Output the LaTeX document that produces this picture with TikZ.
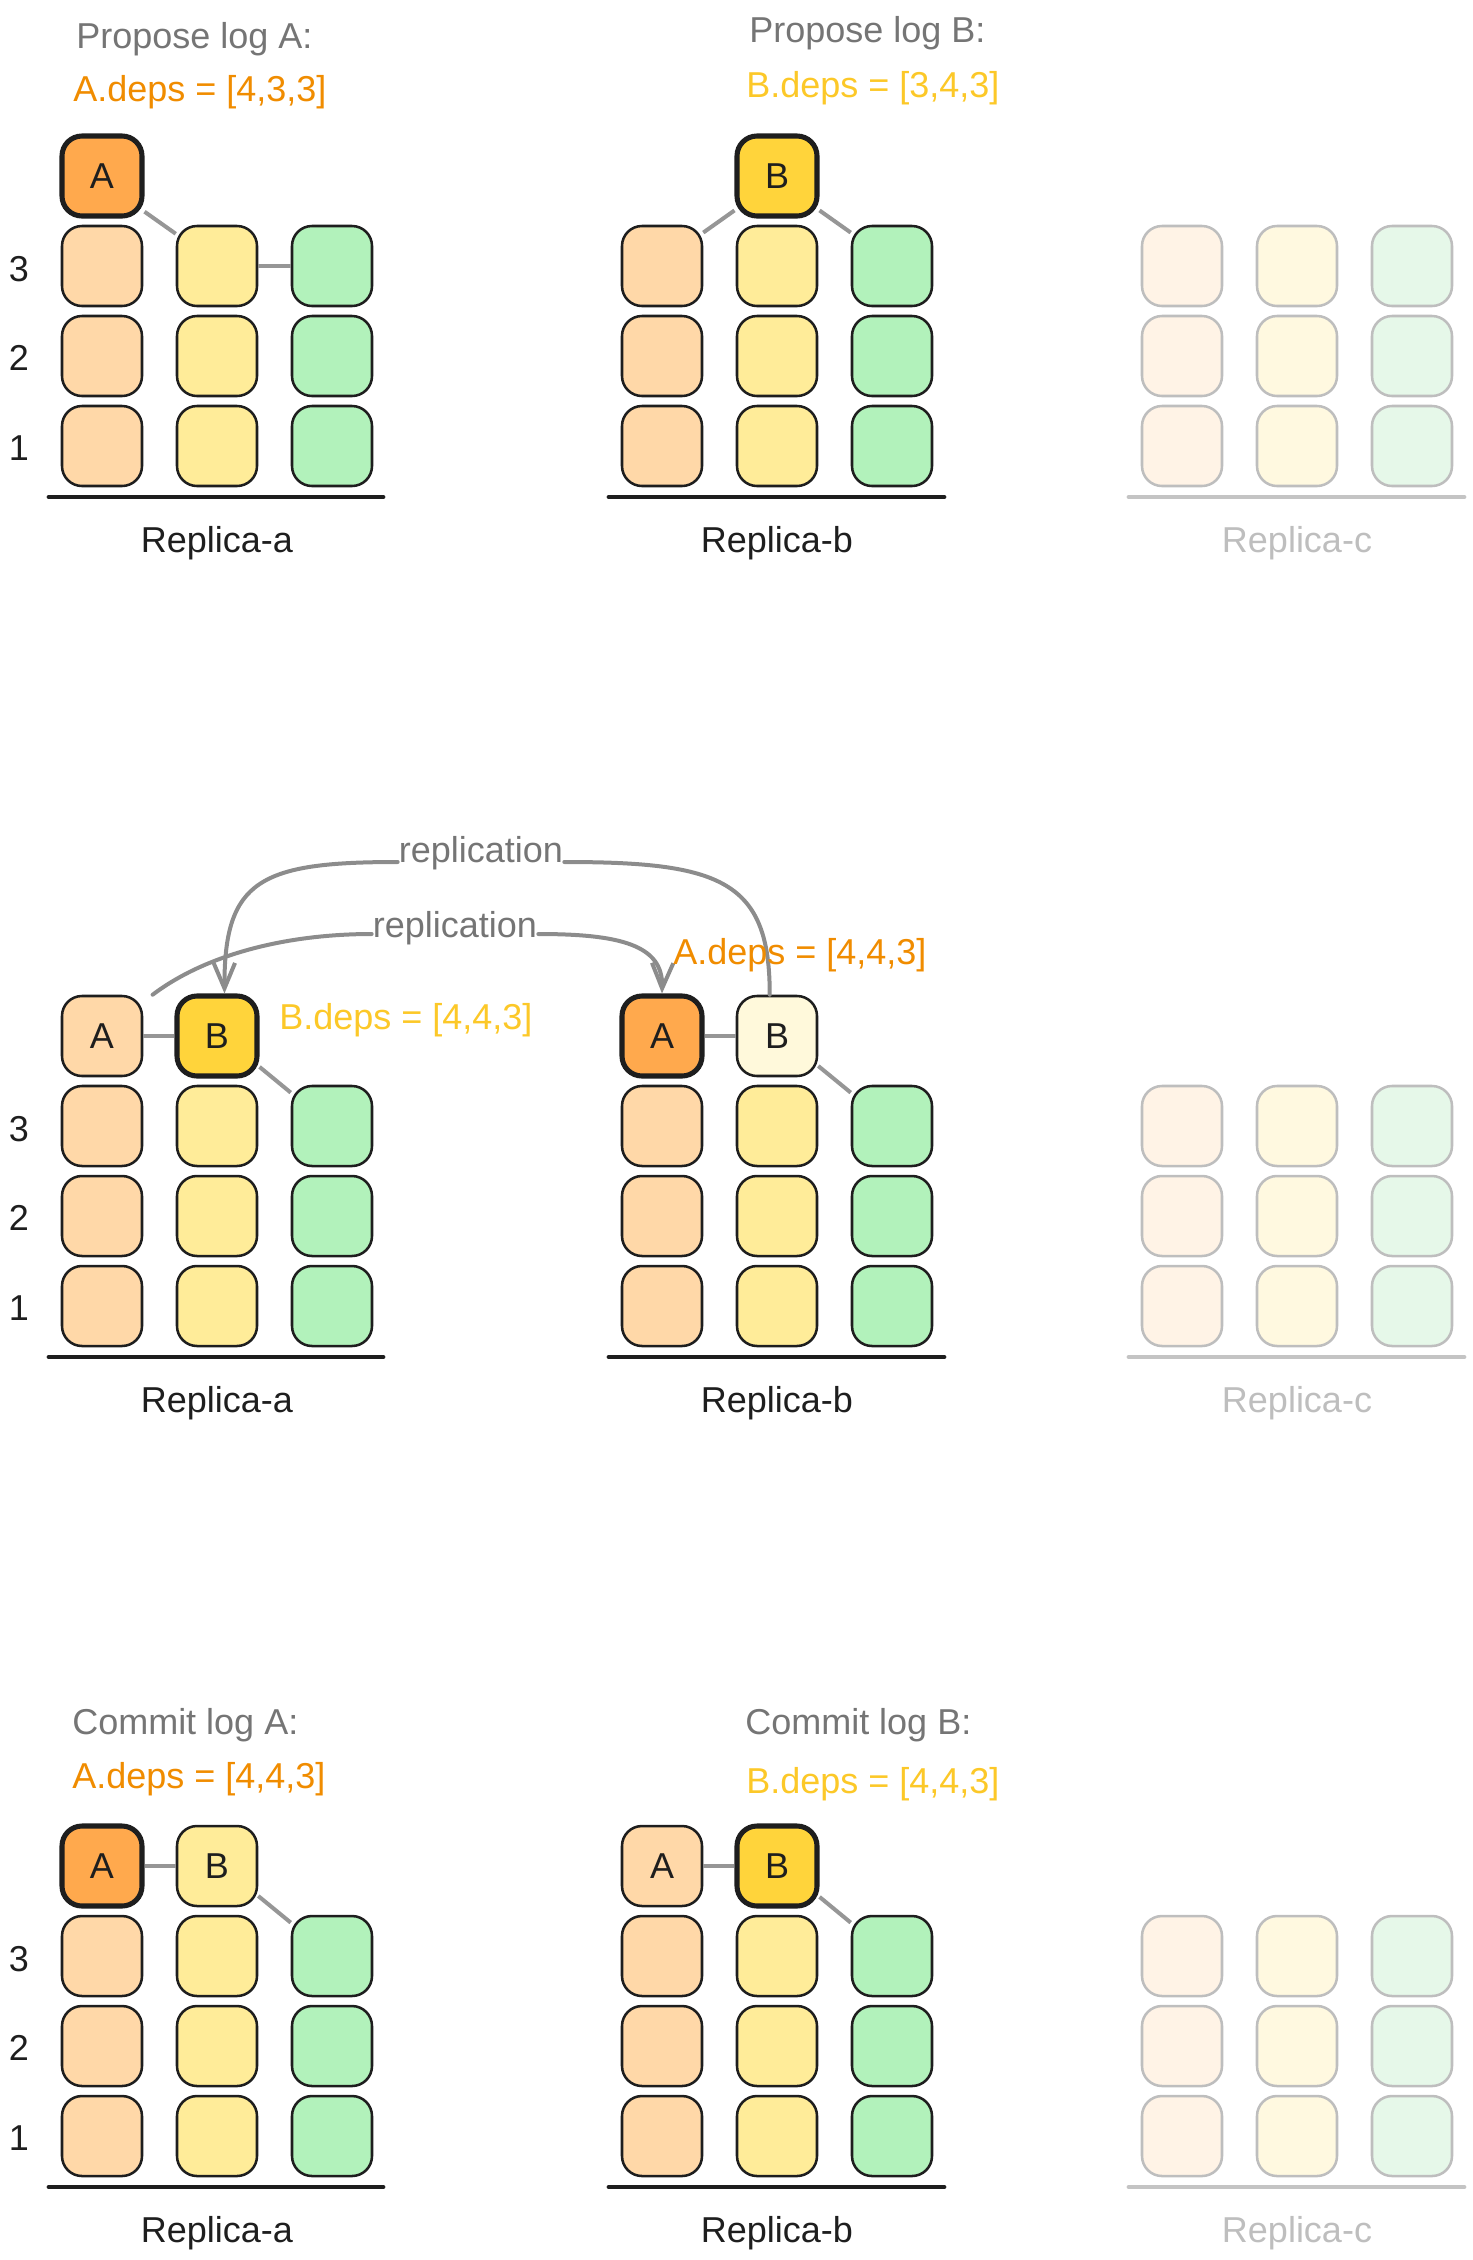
\documentclass[tikz,border=0pt]{standalone}
\usepackage{fontspec}
\setmainfont{Liberation Sans}
\usepackage{xcolor}
\usepackage{tikz}
\usetikzlibrary{arrows.meta}

\begin{document}
\begin{tikzpicture}[x=0.75pt,y=0.75pt,yscale=-1,xscale=1,
        every node/.style={font=\fontsize{27}{32}\selectfont},
        cell/.style={draw, color={rgb, 255:red, 30; green, 30; blue, 30 }, line width=1.9pt, rounded corners=15pt, minimum width=60pt, minimum height=60pt, inner sep=0pt},
        ora/.style={cell, fill={rgb, 255:red, 255; green, 216; blue, 168 }},
        yel/.style={cell, fill={rgb, 255:red, 255; green, 236; blue, 153 }},
        grn/.style={cell, fill={rgb, 255:red, 178; green, 242; blue, 187 }},
        pale/.style={cell, fill={rgb, 255:red, 255; green, 249; blue, 219 }},
        logA/.style={cell, line width=3.8pt, fill={rgb, 255:red, 255; green, 169; blue, 77 }},
        logB/.style={cell, line width=3.8pt, fill={rgb, 255:red, 255; green, 212; blue, 59 }},
        dimo/.style={cell, color={rgb, 255:red, 190; green, 190; blue, 190 }, fill={rgb, 255:red, 255; green, 243; blue, 230 }},
        dimy/.style={cell, color={rgb, 255:red, 190; green, 190; blue, 190 }, fill={rgb, 255:red, 255; green, 249; blue, 224 }},
        dimg/.style={cell, color={rgb, 255:red, 190; green, 190; blue, 190 }, fill={rgb, 255:red, 230; green, 248; blue, 233 }},
        link/.style={color={rgb, 255:red, 150; green, 150; blue, 150 }, line width=3pt},
        shelf/.style={color={rgb, 255:red, 30; green, 30; blue, 30 }, line width=3.6pt, line cap=round},
        dimshelf/.style={shelf, color={rgb, 255:red, 196; green, 196; blue, 196 }},
        rep/.style={color={rgb, 255:red, 140; green, 140; blue, 140 }, line width=3pt, line cap=round, -{Straight Barb[length=19pt,width=16pt]}},
        note/.style={color={rgb, 255:red, 117; green, 117; blue, 117 }},
        depA/.style={color={rgb, 255:red, 240; green, 140; blue, 0 }},
        depB/.style={color={rgb, 255:red, 252; green, 200; blue, 40 }},
        blk/.style={color={rgb, 255:red, 30; green, 30; blue, 30 }},
        dimtxt/.style={color={rgb, 255:red, 190; green, 190; blue, 190 }}]
        \useasboundingbox (0,0) rectangle (1473,2260);

        %%%%%%%%%% Propose %%%%%%%%%%
        % Text Node
        \draw (75,39) node [anchor=west][inner sep=0.75pt][note] (Pt-A) {Propose log A:};
        % Text Node
        \draw (72,92) node [anchor=west][inner sep=0.75pt][depA] (Pd-A) {A.deps = [4,3,3]};
        % Text Node
        \draw (748,33) node [anchor=west][inner sep=0.75pt][note] (Pt-B) {Propose log B:};
        % Text Node
        \draw (745,88) node [anchor=west][inner sep=0.75pt][depB] (Pd-B) {B.deps = [3,4,3]};
        %Shape: Replica-a
        \node [logA] (Pa-A) at (102,176) {A};
        \node [ora] (Pa-a3) at (102,266) {}; \node [yel] (Pa-b3) at (217,266) {}; \node [grn] (Pa-c3) at (332,266) {};
        \node [ora] (Pa-a2) at (102,356) {}; \node [yel] (Pa-b2) at (217,356) {}; \node [grn] (Pa-c2) at (332,356) {};
        \node [ora] (Pa-a1) at (102,446) {}; \node [yel] (Pa-b1) at (217,446) {}; \node [grn] (Pa-c1) at (332,446) {};
        %Shape: Replica-b
        \node [logB] (Pb-B) at (777,176) {B};
        \node [ora] (Pb-a3) at (662,266) {}; \node [yel] (Pb-b3) at (777,266) {}; \node [grn] (Pb-c3) at (892,266) {};
        \node [ora] (Pb-a2) at (662,356) {}; \node [yel] (Pb-b2) at (777,356) {}; \node [grn] (Pb-c2) at (892,356) {};
        \node [ora] (Pb-a1) at (662,446) {}; \node [yel] (Pb-b1) at (777,446) {}; \node [grn] (Pb-c1) at (892,446) {};
        %Shape: Replica-c
        \node [dimo] (Pc-a3) at (1182,266) {}; \node [dimy] (Pc-b3) at (1297,266) {}; \node [dimg] (Pc-c3) at (1412,266) {};
        \node [dimo] (Pc-a2) at (1182,356) {}; \node [dimy] (Pc-b2) at (1297,356) {}; \node [dimg] (Pc-c2) at (1412,356) {};
        \node [dimo] (Pc-a1) at (1182,446) {}; \node [dimy] (Pc-b1) at (1297,446) {}; \node [dimg] (Pc-c1) at (1412,446) {};
        %Straight Lines
        \draw [link] (Pa-A.-40) -- (Pa-b3.142) ;
        \draw [link] (Pa-b3.east) -- (Pa-c3.west) ;
        \draw [link] (Pb-B.-141) -- (Pb-a3.39) ;
        \draw [link] (Pb-B.-39) -- (Pb-c3.141) ;
        \draw [shelf] (49,497) -- (383,497) ;
        \draw [shelf] (609,497) -- (944,497) ;
        \draw [dimshelf] (1129,497) -- (1464,497) ;
        % Text Node
        \draw (19,269) node [blk] (Pn-3) {3};
        \draw (19,358) node [blk] (Pn-2) {2};
        \draw (19,448) node [blk] (Pn-1) {1};
        \draw (217,543) node [blk] (Pr-a) {Replica-a};
        \draw (777,543) node [blk] (Pr-b) {Replica-b};
        \draw (1297,543) node [dimtxt] (Pr-c) {Replica-c};

        %%%%%%%%%% Replicate %%%%%%%%%%
        %Shape: Replica-a
        \node [ora] (Ra-A) at (102,1036) {A}; \node [logB] (Ra-B) at (217,1036) {B};
        \node [ora] (Ra-a3) at (102,1126) {}; \node [yel] (Ra-b3) at (217,1126) {}; \node [grn] (Ra-c3) at (332,1126) {};
        \node [ora] (Ra-a2) at (102,1216) {}; \node [yel] (Ra-b2) at (217,1216) {}; \node [grn] (Ra-c2) at (332,1216) {};
        \node [ora] (Ra-a1) at (102,1306) {}; \node [yel] (Ra-b1) at (217,1306) {}; \node [grn] (Ra-c1) at (332,1306) {};
        %Shape: Replica-b
        \node [logA] (Rb-A) at (662,1036) {A}; \node [pale] (Rb-B) at (777,1036) {B};
        \node [ora] (Rb-a3) at (662,1126) {}; \node [yel] (Rb-b3) at (777,1126) {}; \node [grn] (Rb-c3) at (892,1126) {};
        \node [ora] (Rb-a2) at (662,1216) {}; \node [yel] (Rb-b2) at (777,1216) {}; \node [grn] (Rb-c2) at (892,1216) {};
        \node [ora] (Rb-a1) at (662,1306) {}; \node [yel] (Rb-b1) at (777,1306) {}; \node [grn] (Rb-c1) at (892,1306) {};
        %Shape: Replica-c
        \node [dimo] (Rc-a3) at (1182,1126) {}; \node [dimy] (Rc-b3) at (1297,1126) {}; \node [dimg] (Rc-c3) at (1412,1126) {};
        \node [dimo] (Rc-a2) at (1182,1216) {}; \node [dimy] (Rc-b2) at (1297,1216) {}; \node [dimg] (Rc-c2) at (1412,1216) {};
        \node [dimo] (Rc-a1) at (1182,1306) {}; \node [dimy] (Rc-b1) at (1297,1306) {}; \node [dimg] (Rc-c1) at (1412,1306) {};
        %Straight Lines
        \draw [link] (Ra-A.east) -- (Ra-B.west) ;
        \draw [link] (Ra-B.-36) -- (Ra-c3.141) ;
        \draw [link] (Rb-A.east) -- (Rb-B.west) ;
        \draw [link] (Rb-B.-36) -- (Rb-c3.141) ;
        \draw [shelf] (49,1357) -- (383,1357) ;
        \draw [shelf] (609,1357) -- (944,1357) ;
        \draw [dimshelf] (1129,1357) -- (1464,1357) ;
        % Text Node
        \draw (481,862) node [anchor=base][inner sep=0.75pt][note] (rep-up) {replication};
        \draw (455,934) node [anchor=mid][inner sep=0.75pt][note] (rep-lo) {replication};
        %Curve Lines
        \draw [rep] (Rb-B.100) .. controls (770,880) and (720,862) .. (rep-up.base east) (rep-up.base west) .. controls (260,862) and (224,880) .. (Ra-B.80) ;
        \draw [rep] ([xshift=7pt]Ra-A.north east) .. controls (205,955) and (285,934) .. (rep-lo.mid west) (rep-lo.mid east) .. controls (620,934) and (663,945) .. (Rb-A.north) ;
        % Text Node
        \draw (278,1020) node [anchor=west][inner sep=0.75pt][depB] (Rd-B) {B.deps = [4,4,3]};
        \draw (672,955) node [anchor=west][inner sep=0.75pt][depA] (Rd-A) {A.deps = [4,4,3]};
        \draw (19,1129) node [blk] (Rn-3) {3};
        \draw (19,1218) node [blk] (Rn-2) {2};
        \draw (19,1308) node [blk] (Rn-1) {1};
        \draw (217,1403) node [blk] (Rr-a) {Replica-a};
        \draw (777,1403) node [blk] (Rr-b) {Replica-b};
        \draw (1297,1403) node [dimtxt] (Rr-c) {Replica-c};

        %%%%%%%%%% Commit %%%%%%%%%%
        % Text Node
        \draw (71,1725) node [anchor=west][inner sep=0.75pt][note] (Ct-A) {Commit log A:};
        \draw (71,1779) node [anchor=west][inner sep=0.75pt][depA] (Cd-A) {A.deps = [4,4,3]};
        \draw (744,1725) node [anchor=west][inner sep=0.75pt][note] (Ct-B) {Commit log B:};
        \draw (745,1784) node [anchor=west][inner sep=0.75pt][depB] (Cd-B) {B.deps = [4,4,3]};
        %Shape: Replica-a
        \node [logA] (Ca-A) at (102,1866) {A}; \node [yel] (Ca-B) at (217,1866) {B};
        \node [ora] (Ca-a3) at (102,1956) {}; \node [yel] (Ca-b3) at (217,1956) {}; \node [grn] (Ca-c3) at (332,1956) {};
        \node [ora] (Ca-a2) at (102,2046) {}; \node [yel] (Ca-b2) at (217,2046) {}; \node [grn] (Ca-c2) at (332,2046) {};
        \node [ora] (Ca-a1) at (102,2136) {}; \node [yel] (Ca-b1) at (217,2136) {}; \node [grn] (Ca-c1) at (332,2136) {};
        %Shape: Replica-b
        \node [ora] (Cb-A) at (662,1866) {A}; \node [logB] (Cb-B) at (777,1866) {B};
        \node [ora] (Cb-a3) at (662,1956) {}; \node [yel] (Cb-b3) at (777,1956) {}; \node [grn] (Cb-c3) at (892,1956) {};
        \node [ora] (Cb-a2) at (662,2046) {}; \node [yel] (Cb-b2) at (777,2046) {}; \node [grn] (Cb-c2) at (892,2046) {};
        \node [ora] (Cb-a1) at (662,2136) {}; \node [yel] (Cb-b1) at (777,2136) {}; \node [grn] (Cb-c1) at (892,2136) {};
        %Shape: Replica-c
        \node [dimo] (Cc-a3) at (1182,1956) {}; \node [dimy] (Cc-b3) at (1297,1956) {}; \node [dimg] (Cc-c3) at (1412,1956) {};
        \node [dimo] (Cc-a2) at (1182,2046) {}; \node [dimy] (Cc-b2) at (1297,2046) {}; \node [dimg] (Cc-c2) at (1412,2046) {};
        \node [dimo] (Cc-a1) at (1182,2136) {}; \node [dimy] (Cc-b1) at (1297,2136) {}; \node [dimg] (Cc-c1) at (1412,2136) {};
        %Straight Lines
        \draw [link] (Ca-A.east) -- (Ca-B.west) ;
        \draw [link] (Ca-B.-36) -- (Ca-c3.141) ;
        \draw [link] (Cb-A.east) -- (Cb-B.west) ;
        \draw [link] (Cb-B.-36) -- (Cb-c3.141) ;
        \draw [shelf] (49,2187) -- (383,2187) ;
        \draw [shelf] (609,2187) -- (944,2187) ;
        \draw [dimshelf] (1129,2187) -- (1464,2187) ;
        % Text Node
        \draw (19,1959) node [blk] (Cn-3) {3};
        \draw (19,2048) node [blk] (Cn-2) {2};
        \draw (19,2138) node [blk] (Cn-1) {1};
        \draw (217,2233) node [blk] (Cr-a) {Replica-a};
        \draw (777,2233) node [blk] (Cr-b) {Replica-b};
        \draw (1297,2233) node [dimtxt] (Cr-c) {Replica-c};
\end{tikzpicture}
\end{document}
